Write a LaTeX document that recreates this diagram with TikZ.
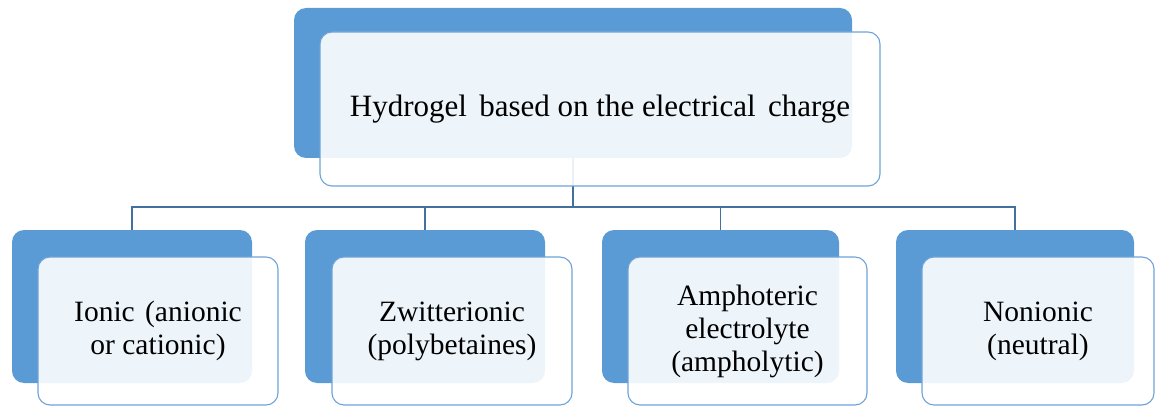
\documentclass[tikz,border=0pt]{standalone}
\usepackage{fontspec}
\setmainfont{Liberation Serif}
\definecolor{backblue}{HTML}{5B9BD5}
\definecolor{edgeblue}{HTML}{6FA3D8}
\definecolor{linkblue}{HTML}{41719C}
\begin{document}
\begin{tikzpicture}[x=1pt,y=-1pt,
  backbox/.style={fill=backblue,draw=none,rounded corners=12pt,inner sep=0pt,minimum width=#1},
  frontbox/.style={fill=white,fill opacity=0.9,text opacity=1,draw=edgeblue,line width=1.1pt,rounded corners=12pt,inner sep=0pt,align=center,text=black,minimum width=#1},
  toptext/.style={font=\fontsize{31}{35}\selectfont},
  subtext/.style={font=\fontsize{29.5}{33}\selectfont},
  link/.style={draw=linkblue,line width=1.1pt}]
\useasboundingbox (0,0) rectangle (1156,406);
% back boxes
\node[backbox=558pt,minimum height=150pt] (topb) at (573,83) {};
\node[backbox=240pt,minimum height=153pt] (b1) at (132,306.5) {};
\node[backbox=240pt,minimum height=153pt] (b2) at (425,306.5) {};
\node[backbox=237pt,minimum height=153pt] (b3) at (720.5,306.5) {};
\node[backbox=238pt,minimum height=153pt] (b4) at (1015,306.5) {};
% connectors
\coordinate (bus) at (573,207);
\draw[link] (topb.south) -- (bus);
\draw[link] (bus) -| (b1.north);
\draw[link] (bus) -| (b2.north);
\draw[link] (bus) -| (b3.north);
\draw[link] (bus) -| (b4.north);
% front boxes
\node[frontbox=560pt,minimum height=154pt,toptext] (top) at (600,109) {Hydrogel\hspace{0.4em}based on the electrical\hspace{0.4em}charge};
\node[frontbox=240pt,minimum height=148pt,subtext] (f1) at (158,331) {Ionic\hspace{0.35em}(anionic\\or cationic)};
\node[frontbox=240pt,minimum height=148pt,subtext] (f2) at (452,331) {Zwitterionic\\(polybetaines)};
\node[frontbox=239pt,minimum height=148pt,subtext] (f3) at (747.5,331) {Amphoteric\\electrolyte\\(ampholytic)};
\node[frontbox=232pt,minimum height=148pt,subtext] (f4) at (1038,331) {Nonionic\\(neutral)};
\end{tikzpicture}
\end{document}
